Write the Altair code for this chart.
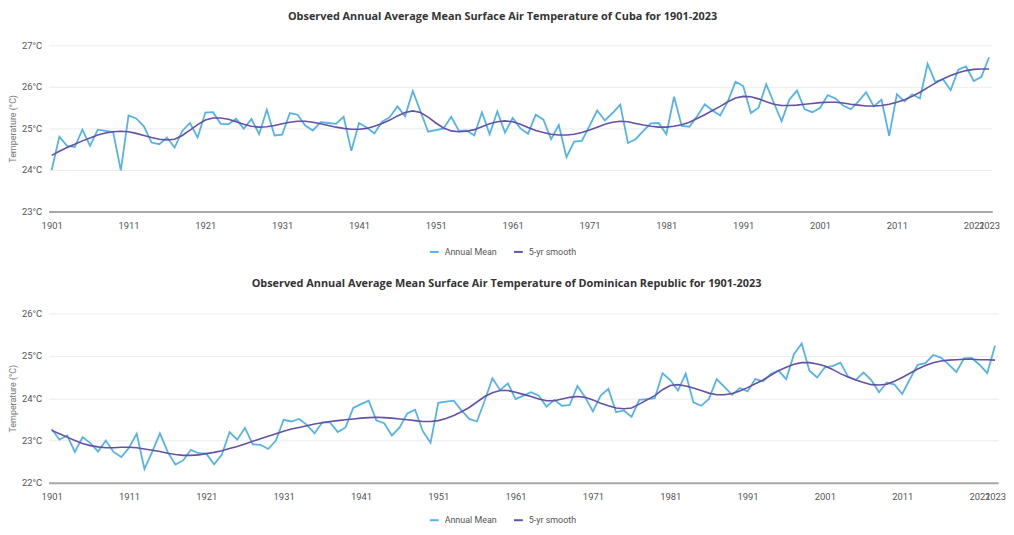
import altair as alt
import pandas as pd

years = list(range(1901, 2024))

cuba_annual = [
    24.00, 24.80, 24.58, 24.55, 24.97, 24.58, 24.97, 24.94, 24.91, 23.99,
    25.31, 25.24, 25.05, 24.66, 24.62, 24.78, 24.54, 24.94, 25.13, 24.78,
    25.38, 25.39, 25.11, 25.10, 25.23, 24.99, 25.23, 24.86, 25.45, 24.83,
    24.85, 25.37, 25.33, 25.07, 24.95, 25.15, 25.13, 25.11, 25.28, 24.46,
    25.13, 25.02, 24.88, 25.16, 25.27, 25.53, 25.29, 25.90, 25.41, 24.92,
    24.96, 25.00, 25.28, 24.94, 24.95, 24.83, 25.39, 24.86, 25.41, 24.90,
    25.25, 25.00, 24.87, 25.33, 25.21, 24.74, 25.08, 24.31, 24.68, 24.70,
    25.06, 25.43, 25.19, 25.37, 25.57, 24.65, 24.74, 24.94, 25.12, 25.13,
    24.86, 25.76, 25.06, 25.04, 25.29, 25.58, 25.43, 25.31, 25.65, 26.12,
    26.02, 25.37, 25.50, 26.06, 25.61, 25.17, 25.69, 25.91, 25.46, 25.39,
    25.49, 25.80, 25.72, 25.55, 25.46, 25.65, 25.87, 25.53, 25.69, 24.82,
    25.82, 25.65, 25.82, 25.72, 26.55, 26.12, 26.18, 25.92, 26.41, 26.49,
    26.14, 26.24, 26.71,
]

cuba_smooth = [
    24.35, 24.45, 24.54, 24.62, 24.70, 24.77, 24.84, 24.89, 24.92, 24.93,
    24.92, 24.88, 24.83, 24.78, 24.74, 24.72, 24.74, 24.83, 24.96, 25.09,
    25.20, 25.25, 25.25, 25.22, 25.16, 25.10, 25.05, 25.03, 25.04, 25.07,
    25.11, 25.15, 25.17, 25.17, 25.15, 25.11, 25.07, 25.03, 25.00, 24.98,
    24.98, 25.00, 25.05, 25.12, 25.20, 25.30, 25.38, 25.42, 25.38, 25.27,
    25.13, 25.01, 24.94, 24.92, 24.93, 24.97, 25.04, 25.11, 25.16, 25.18,
    25.16, 25.10, 25.02, 24.95, 24.90, 24.86, 24.84, 24.84, 24.86, 24.90,
    24.96, 25.03, 25.10, 25.15, 25.17, 25.16, 25.12, 25.08, 25.05, 25.03,
    25.03, 25.05, 25.09, 25.15, 25.24, 25.33, 25.43, 25.53, 25.64, 25.73,
    25.77, 25.76, 25.71, 25.64, 25.58, 25.55, 25.55, 25.56, 25.58, 25.60,
    25.62, 25.63, 25.63, 25.61, 25.58, 25.56, 25.54, 25.54, 25.55, 25.58,
    25.63, 25.69, 25.77, 25.87, 25.98, 26.09, 26.19, 26.27, 26.34, 26.39,
    26.42, 26.43, 26.43,
]

dr_annual = [
    23.27, 23.02, 23.12, 22.73, 23.08, 22.94, 22.74, 23.00, 22.73, 22.61,
    22.83, 23.16, 22.33, 22.73, 23.17, 22.73, 22.43, 22.53, 22.78, 22.70,
    22.69, 22.44, 22.66, 23.20, 23.02, 23.30, 22.91, 22.90, 22.80, 23.00,
    23.49, 23.45, 23.51, 23.37, 23.17, 23.43, 23.43, 23.20, 23.31, 23.77,
    23.86, 23.94, 23.47, 23.41, 23.12, 23.31, 23.64, 23.73, 23.22, 22.95,
    23.89, 23.92, 23.94, 23.71, 23.51, 23.45, 23.94, 24.47, 24.19, 24.35,
    23.98, 24.06, 24.14, 24.06, 23.80, 23.96, 23.82, 23.84, 24.29, 24.02,
    23.69, 24.06, 24.22, 23.67, 23.71, 23.56, 23.96, 23.98, 24.00, 24.59,
    24.43, 24.18, 24.58, 23.90, 23.82, 23.98, 24.45, 24.27, 24.08, 24.24,
    24.16, 24.45, 24.40, 24.57, 24.65, 24.45, 25.04, 25.29, 24.65, 24.49,
    24.73, 24.76, 24.84, 24.51, 24.43, 24.61, 24.43, 24.14, 24.37, 24.32,
    24.10, 24.45, 24.79, 24.83, 25.02, 24.96, 24.80, 24.62, 24.94, 24.95,
    24.79, 24.59, 25.24,
]

dr_smooth = [
    23.24, 23.16, 23.08, 23.00, 22.93, 22.88, 22.85, 22.83, 22.83, 22.84,
    22.84, 22.83, 22.80, 22.77, 22.74, 22.70, 22.67, 22.65, 22.65, 22.66,
    22.69, 22.72, 22.76, 22.81, 22.86, 22.92, 22.98, 23.04, 23.10, 23.16,
    23.22, 23.27, 23.31, 23.35, 23.39, 23.42, 23.45, 23.47, 23.49, 23.51,
    23.53, 23.54, 23.55, 23.54, 23.53, 23.51, 23.49, 23.47, 23.45, 23.45,
    23.47, 23.52, 23.59, 23.68, 23.78, 23.91, 24.04, 24.13, 24.18, 24.18,
    24.14, 24.09, 24.04, 23.98, 23.94, 23.94, 23.98, 24.02, 24.04, 24.02,
    23.96, 23.88, 23.82, 23.77, 23.75, 23.77, 23.86, 23.96, 24.06, 24.20,
    24.30, 24.32, 24.29, 24.24, 24.18, 24.12, 24.08, 24.08, 24.11, 24.17,
    24.25, 24.34, 24.43, 24.54, 24.65, 24.73, 24.80, 24.84, 24.84, 24.81,
    24.76, 24.68, 24.58, 24.50, 24.43, 24.37, 24.32, 24.31, 24.33, 24.40,
    24.49, 24.59, 24.69, 24.77, 24.84, 24.88, 24.90, 24.91, 24.92, 24.92,
    24.91, 24.91, 24.90,
]

x_ticks = [1901, 1911, 1921, 1931, 1941, 1951, 1961, 1971, 1981, 1991,
           2001, 2011, 2021, 2023]
series_names = ["Annual Mean", "5-yr smooth"]
series_colors = ["#55b3e6", "#6450a6"]

LABEL_FONT = "Roboto"


def panel(title, annual, smooth, ymin, ymax, width, height, legend_y,
          title_dx, title_offset):
    df = pd.DataFrame({
        "year": years + years,
        "temp": annual + smooth,
        "series": [series_names[0]] * len(years) + [series_names[1]] * len(years),
    })
    x = alt.X(
        "year:Q",
        scale=alt.Scale(domain=[1900.6, 2023.4], nice=False, zero=False),
        axis=alt.Axis(
            title=None, values=x_ticks, format="d", grid=False, ticks=False,
            domainColor="#a8a8a8", domainWidth=2, labelPadding=9,
            labelFontSize=9.5, labelColor="#555555", labelFont=LABEL_FONT,
            labelOverlap=False, labelFlush=False,
        ),
    )
    y = alt.Y(
        "temp:Q",
        scale=alt.Scale(domain=[ymin, ymax], nice=False, zero=False),
        axis=alt.Axis(
            title="Temperature (°C)", values=list(range(ymin, ymax + 1)),
            labelExpr="datum.value + '°C'", domain=False, ticks=False,
            gridColor="#ececec", gridWidth=1, labelPadding=7,
            labelFontSize=9.5, labelColor="#555555", labelFont=LABEL_FONT,
            titleFontSize=9, titleFontWeight="normal", titleColor="#777777",
            titleFont=LABEL_FONT, titlePadding=4,
        ),
    )
    color = alt.Color(
        "series:N",
        scale=alt.Scale(domain=series_names, range=series_colors),
        legend=alt.Legend(
            title=None, orient="none", direction="horizontal",
            legendX=384, legendY=legend_y, symbolType="stroke",
            symbolStrokeWidth=2, symbolSize=80, labelFontSize=9,
            labelColor="#555555", labelFont=LABEL_FONT, columnPadding=13,
            labelOffset=5,
        ),
    )
    base = alt.Chart(df)
    annual_layer = base.transform_filter(
        alt.datum.series == series_names[0]
    ).mark_line(strokeWidth=1.8).encode(x=x, y=y, color=color)
    smooth_layer = base.transform_filter(
        alt.datum.series == series_names[1]
    ).mark_line(strokeWidth=1.6).encode(x=x, y=y, color=color)
    return alt.layer(annual_layer, smooth_layer).properties(
        width=width, height=height,
        title=alt.TitleParams(
            text=title, fontSize=11, font="Open Sans", fontWeight="bold",
            color="#333333", anchor="middle", dx=title_dx, offset=title_offset,
        ),
    )


top = panel("Observed Annual Average Mean Surface Air Temperature of Cuba for 1901-2023",
            cuba_annual, cuba_smooth, 23, 27, 953, 168, 203, -18, 18)
bottom = panel("Observed Annual Average Mean Surface Air Temperature of Dominican Republic for 1901-2023",
               dr_annual, dr_smooth, 22, 26, 959, 171, 203, -17, 20)

chart = alt.vconcat(top, bottom, spacing=21).resolve_scale(
    color="independent"
).properties(
    padding={"left": 0, "top": 1, "right": 0, "bottom": 0},
).configure_view(stroke=None)

chart.save("out.html", embed_options={"renderer": "svg", "actions": False})
